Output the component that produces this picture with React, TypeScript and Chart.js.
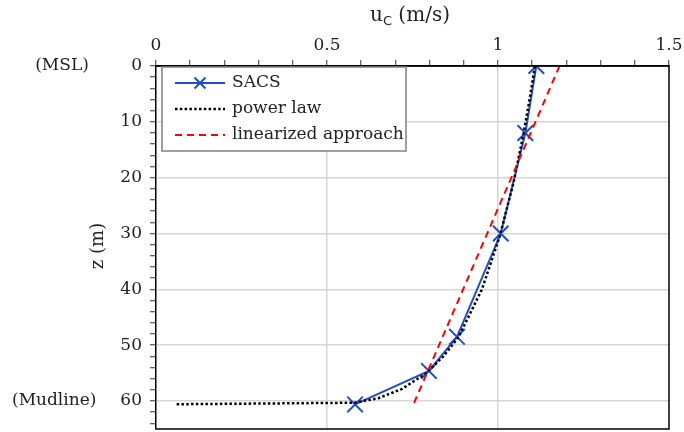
import React, { useEffect, useRef } from "react";
import { Chart, registerables } from "chart.js";

Chart.register(...registerables);

// ---- data ----
const sacsU = [1.112, 1.08, 1.008, 0.88, 0.798, 0.582];
const sacsZ = [0, 12, 30, 48.5, 54.6, 60.6];

const powerU = [1.108, 1.095, 1.075, 1.045, 1.005, 0.953, 0.885, 0.84, 0.79, 0.72, 0.65, 0.58, 0.055];
const powerZ = [0, 5, 12, 21, 30.5, 40, 48.5, 52, 55, 57.8, 59.5, 60.3, 60.57];

const linearU = [1.18, 0.752];
const linearZ = [0, 60.7];

const xMajorTicks = [0, 0.5, 1, 1.5];
const xTickLabels = ["0", "0.5", "1", "1.5"];
const yMajorTicks = [0, 10, 20, 30, 40, 50, 60];
const yTickLabels = ["0", "10", "20", "30", "40", "50", "60"];

const seriesNames = ["SACS", "power law", "linearized approach"];

const SERIF = '"DejaVu Serif", serif';
const TEXT = "#222";
const GRID = "#d6d6d6";

const toPts = (u: number[], z: number[]) => u.map((v, i) => ({ x: v, y: z[i] }));
const findMajor = (arr: number[], v: number) => arr.findIndex((m) => Math.abs(m - v) < 1e-6);

const annotate = {
  id: "annotate",
  afterDraw(chart: any) {
    const { ctx, chartArea: a } = chart;
    ctx.save();
    // frame
    ctx.strokeStyle = "#000";
    ctx.lineWidth = 1.5;
    ctx.beginPath();
    ctx.moveTo(a.left, a.top);
    ctx.lineTo(a.right, a.top);
    ctx.lineTo(a.right, a.bottom);
    ctx.lineTo(a.left, a.bottom);
    ctx.stroke();

    // x-axis title with subscript
    ctx.fillStyle = TEXT;
    ctx.textBaseline = "alphabetic";
    ctx.textAlign = "left";
    const mainFont = `20px ${SERIF}`;
    const subFont = `13px "DejaVu Sans", sans-serif`;
    ctx.font = mainFont;
    const w1 = ctx.measureText("u").width;
    const w3 = ctx.measureText(" (m/s)").width;
    ctx.font = subFont;
    const w2 = ctx.measureText("C").width;
    const total = w1 + w2 + w3;
    const x0 = 410 - total / 2;
    const base = 21;
    ctx.font = mainFont;
    ctx.fillText("u", x0, base);
    ctx.font = subFont;
    ctx.fillText("C", x0 + w1, base + 4);
    ctx.font = mainFont;
    ctx.fillText(" (m/s)", x0 + w1 + w2, base);

    // y-axis title
    ctx.save();
    ctx.translate(98, 246);
    ctx.rotate(-Math.PI / 2);
    ctx.textAlign = "center";
    ctx.textBaseline = "middle";
    ctx.font = `18px ${SERIF}`;
    ctx.fillText("z (m)", 0, 0);
    ctx.restore();

    // side labels
    const ys = chart.scales.y;
    ctx.font = `17px ${SERIF}`;
    ctx.textBaseline = "middle";
    ctx.textAlign = "center";
    ctx.fillText("(MSL)", 62, ys.getPixelForValue(0));
    ctx.textAlign = "left";
    ctx.fillText("(Mudline)", 12, ys.getPixelForValue(60));

    // legend
    const lx = 162, ly = 67, lw = 244, lh = 84;
    ctx.fillStyle = "#fff";
    ctx.fillRect(lx, ly, lw, lh);
    ctx.strokeStyle = "#808080";
    ctx.lineWidth = 1.5;
    ctx.strokeRect(lx, ly, lw, lh);
    const rows = [83, 109, 135];
    const ds = chart.data.datasets;
    rows.forEach((ry, i) => {
      const d = ds[i];
      ctx.save();
      ctx.strokeStyle = d.borderColor;
      ctx.lineWidth = d.borderWidth;
      ctx.setLineDash(d.borderDash || []);
      ctx.beginPath();
      ctx.moveTo(175, ry);
      ctx.lineTo(225, ry);
      ctx.stroke();
      if (i === 0) {
        ctx.setLineDash([]);
        const r = 5.5;
        ctx.beginPath();
        ctx.moveTo(200 - r, ry - r);
        ctx.lineTo(200 + r, ry + r);
        ctx.moveTo(200 + r, ry - r);
        ctx.lineTo(200 - r, ry + r);
        ctx.stroke();
      }
      ctx.restore();
      ctx.fillStyle = TEXT;
      ctx.font = `17px ${SERIF}`;
      ctx.textAlign = "left";
      ctx.textBaseline = "middle";
      ctx.fillText(seriesNames[i], 232, ry);
    });
    ctx.restore();
  },
};

export default function App() {
  const ref = useRef<HTMLCanvasElement | null>(null);

  useEffect(() => {
    document.body.style.margin = "0";
    if (!ref.current) return;
    const chart = new Chart(ref.current, {
      type: "scatter",
      data: {
        datasets: [
          {
            label: seriesNames[0],
            data: toPts(sacsU, sacsZ),
            showLine: true,
            borderColor: "#1f4fd0",
            backgroundColor: "#1f4fd0",
            borderWidth: 2,
            pointStyle: "crossRot",
            pointRadius: 11,
            pointBorderWidth: 2,
            order: 3,
          },
          {
            label: seriesNames[1],
            data: toPts(powerU, powerZ),
            showLine: true,
            borderColor: "#000",
            borderWidth: 2.5,
            borderDash: [2.5, 2.3],
            pointRadius: 0,
            order: 2,
          },
          {
            label: seriesNames[2],
            data: toPts(linearU, linearZ),
            showLine: true,
            borderColor: "#ff0000",
            borderWidth: 2,
            borderDash: [7, 5],
            pointRadius: 0,
            order: 1,
          },
        ],
      },
      options: {
        animation: false,
        responsive: false,
        maintainAspectRatio: false,
        layout: { autoPadding: false, padding: { left: 0, right: 15, top: 0, bottom: 3 } },
        plugins: { legend: { display: false }, tooltip: { enabled: false }, title: { display: false } },
        scales: {
          x: {
            type: "linear",
            position: "top",
            min: 0,
            max: 1.5,
            afterFit: (s: any) => {
              s.height = 66;
              s.paddingLeft = 0;
              s.paddingRight = 0;
              s.paddingTop = 0;
              s.paddingBottom = 0;
            },
            ticks: {
              stepSize: 0.1,
              autoSkip: false,
              maxRotation: 0,
              padding: 4,
              color: TEXT,
              font: { family: SERIF, size: 17 },
              callback: (v: any) => {
                const i = findMajor(xMajorTicks, Number(v));
                return i >= 0 ? xTickLabels[i] : "";
              },
            },
            grid: {
              color: (c: any) => {
                const v = c.tick ? c.tick.value : NaN;
                const i = findMajor(xMajorTicks, v);
                return i > 0 && i < xMajorTicks.length - 1 ? GRID : "rgba(0,0,0,0)";
              },
              lineWidth: 1.5,
              tickColor: "#333",
              tickWidth: 1,
              tickLength: 6,
            },
            border: { display: true, color: "#000", width: 1.5 },
          },
          y: {
            type: "linear",
            reverse: true,
            min: 0,
            max: 65,
            afterFit: (s: any) => {
              s.width = 156;
              s.paddingLeft = 0;
              s.paddingRight = 0;
              s.paddingTop = 0;
              s.paddingBottom = 0;
            },
            ticks: {
              stepSize: 2,
              autoSkip: false,
              includeBounds: false,
              padding: 8,
              color: TEXT,
              font: { family: SERIF, size: 17 },
              callback: (v: any) => {
                const i = findMajor(yMajorTicks, Number(v));
                return i >= 0 ? yTickLabels[i] : "";
              },
            },
            grid: {
              color: (c: any) => {
                const v = c.tick ? c.tick.value : NaN;
                const i = findMajor(yMajorTicks, v);
                return i > 0 ? GRID : "rgba(0,0,0,0)";
              },
              lineWidth: 1.5,
              tickColor: "#333",
              tickWidth: 1,
              tickLength: 6,
            },
            border: { display: true, color: "#000", width: 1.5 },
          },
        },
      },
      plugins: [annotate],
    });
    return () => chart.destroy();
  }, []);

  return (
    <div style={{ width: 684, height: 432 }}>
      <canvas ref={ref} width={684} height={432} style={{ display: "block", width: 684, height: 432 }} />
    </div>
  );
}
